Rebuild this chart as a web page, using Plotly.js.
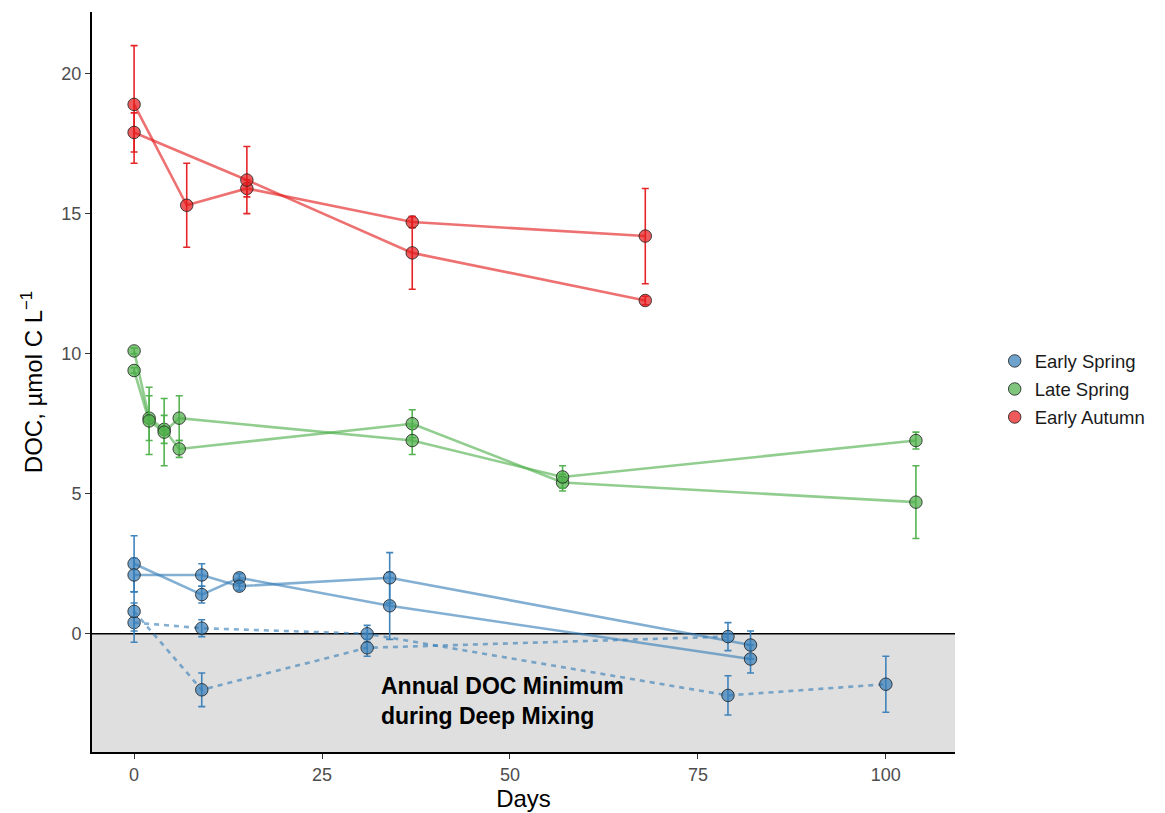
<!DOCTYPE html>
<html>
<head>
<meta charset="utf-8">
<script src="https://cdn.plot.ly/plotly-3.0.1.min.js"></script>
<style>html,body{margin:0;padding:0;background:#fff;}#chart{width:1165px;height:813px;}</style>
</head>
<body>
<div id="chart"></div>
<script>
// ---------- Data ----------
// Early Spring (solid replicates)
const esSolidDays = [0, 9, 14, 34, 82];
const esSolidA = [2.5, 1.4, 2.0, 1.0, -0.9];
const esSolidAErr = [1.0, 0.3, 0.15, 1.2, 0.5];
const esSolidB = [2.1, 2.1, 1.7, 2.0, -0.4];
const esSolidBErr = [0.6, 0.4, 0.15, 0.9, 0.5];
// Early Spring (dashed replicates)
const esDashDaysA = [0, 9, 31, 79, 100];
const esDashA = [0.4, 0.2, 0.0, -2.2, -1.8];
const esDashAErr = [0.7, 0.3, 0.3, 0.7, 1.0];
const esDashDaysB = [0, 9, 31, 79];
const esDashB = [0.8, -2.0, -0.5, -0.1];
const esDashBErr = [0.7, 0.6, 0.3, 0.5];
// Late Spring
const lsDays = [0, 2, 4, 6, 37, 57, 104];
const lsA = [10.1, 7.7, 7.3, 6.6, 7.5, 5.4, 4.7];
const lsAErr = [0.1, 0.8, 0.5, 0.3, 0.5, 0.3, 1.3];
const lsB = [9.4, 7.6, 7.2, 7.7, 6.9, 5.6, 6.9];
const lsBErr = [0.1, 1.2, 1.2, 0.8, 0.5, 0.4, 0.3];
// Early Autumn
const eaDaysA = [0, 7, 15, 37, 68];
const eaA = [18.9, 15.3, 15.9, 14.7, 14.2];
const eaAErr = [2.1, 1.5, 0.3, 0.2, 1.7];
const eaDaysB = [0, 15, 37, 68];
const eaB = [17.9, 16.2, 13.6, 11.9];
const eaBErr = [0.7, 1.2, 1.3, 0.15];

const seasonNames = ["Early Spring", "Late Spring", "Early Autumn"];
const xTicks = [0, 25, 50, 75, 100];
const yTicks = [0, 5, 10, 15, 20];

// ---------- Styles ----------
const colors = {
  "Early Spring": "55,126,184",
  "Late Spring": "77,175,74",
  "Early Autumn": "228,26,28"
};
const FONT = "Liberation Sans, Arial, Helvetica, sans-serif";

const series = [
  {season: "Early Spring", x: esSolidDays, y: esSolidA, e: esSolidAErr, dash: "solid"},
  {season: "Early Spring", x: esSolidDays, y: esSolidB, e: esSolidBErr, dash: "solid"},
  {season: "Early Spring", x: esDashDaysA, y: esDashA, e: esDashAErr, dash: "dash"},
  {season: "Early Spring", x: esDashDaysB, y: esDashB, e: esDashBErr, dash: "dash"},
  {season: "Late Spring", x: lsDays, y: lsA, e: lsAErr, dash: "solid"},
  {season: "Late Spring", x: lsDays, y: lsB, e: lsBErr, dash: "solid"},
  {season: "Early Autumn", x: eaDaysA, y: eaA, e: eaAErr, dash: "solid"},
  {season: "Early Autumn", x: eaDaysB, y: eaB, e: eaBErr, dash: "solid"}
];

const traces = [];
// lines first
series.forEach(s => {
  const c = colors[s.season];
  traces.push({
    x: s.x, y: s.y, type: "scatter", mode: "lines",
    line: {color: "rgba(" + c + ",0.62)", width: 2.6, dash: s.dash === "dash" ? "5px,5px" : "solid"},
    showlegend: false, hoverinfo: "skip", legendgroup: s.season
  });
});
// markers with error bars
const shown = {};
series.forEach(s => {
  const c = colors[s.season];
  const first = !shown[s.season];
  shown[s.season] = true;
  traces.push({
    x: s.x, y: s.y, type: "scatter", mode: "markers", name: s.season,
    legendgroup: s.season, showlegend: first,
    legendrank: seasonNames.indexOf(s.season) + 1,
    marker: {size: 12.5, color: "rgba(" + c + ",0.72)", line: {color: "rgba(30,30,30,0.8)", width: 1}},
    error_y: {type: "data", array: s.e, visible: true, color: "rgba(" + c + ",0.95)", thickness: 1.6, width: 3.5}
  });
});

const layout = {
  width: 1165, height: 813,
  paper_bgcolor: "#ffffff", plot_bgcolor: "#ffffff",
  margin: {l: 92, r: 210, t: 12, b: 61},
  font: {family: FONT, color: "#1a1a1a"},
  xaxis: {
    range: [-5.6, 109.2], tickvals: xTicks, ticktext: xTicks.map(String),
    showgrid: false, zeroline: false, showline: true, linecolor: "#000", linewidth: 2,
    ticks: "outside", ticklen: 5, tickwidth: 1, tickcolor: "#333",
    tickfont: {size: 18, color: "#4d4d4d", family: FONT},
    title: {text: "Days", font: {size: 24, color: "#000", family: FONT}, standoff: 6}
  },
  yaxis: {
    range: [-4.22, 22.2], tickvals: yTicks, ticktext: yTicks.map(String),
    showgrid: false, zeroline: false, showline: true, linecolor: "#000", linewidth: 2,
    ticks: "outside", ticklen: 5, tickwidth: 1, tickcolor: "#333",
    tickfont: {size: 18, color: "#4d4d4d", family: FONT},
    title: {text: "DOC, µmol C L<sup>−1</sup>", font: {size: 24, color: "#000", family: FONT}, standoff: 12}
  },
  shapes: [
    {type: "rect", xref: "paper", yref: "y", x0: 0, x1: 1, y0: -4.22, y1: 0,
     fillcolor: "#dfdfdf", line: {width: 0}, layer: "below"},
    {type: "line", xref: "paper", yref: "y", x0: 0, x1: 1, y0: 0, y1: 0,
     line: {color: "#000", width: 1.5}, layer: "below"}
  ],
  annotations: [
    {x: 32.6, y: -2.4, xref: "x", yref: "y", xanchor: "left", yanchor: "middle", align: "left",
     showarrow: false, text: "<b>Annual DOC Minimum<br>during Deep Mixing</b>",
     font: {size: 23, color: "#000", family: FONT}}
  ],
  legend: {
    x: 1.046, y: 0.49, xanchor: "left", yanchor: "middle",
    font: {size: 18.5, color: "#1a1a1a", family: FONT},
    traceorder: "grouped", tracegroupgap: 1, bgcolor: "rgba(0,0,0,0)", itemwidth: 30
  },
  showlegend: true
};

Plotly.newPlot("chart", traces, layout, {displayModeBar: false, staticPlot: true});
</script>
</body>
</html>
